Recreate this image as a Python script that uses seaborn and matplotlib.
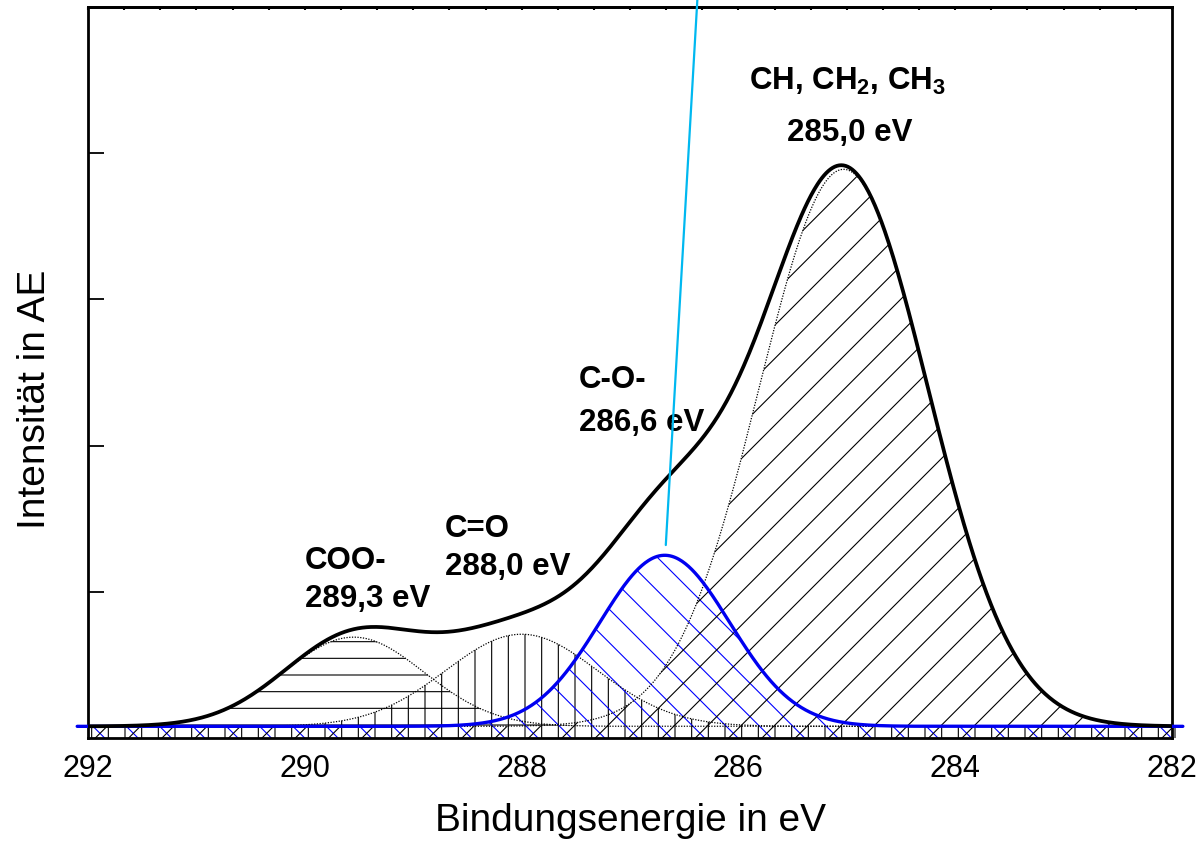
import numpy as np
import pandas as pd
import matplotlib
matplotlib.use("Agg")
import matplotlib.pyplot as plt
from matplotlib.ticker import MultipleLocator, NullFormatter
import seaborn as sns

# ---- data (C1s peak fit) ----
component_names = ["COO-", "C=O", "C-O-", "CH"]
centers_ev = [289.55, 288.00, 286.68, 285.03]
heights = [0.61, 0.63, 1.17, 3.81]
sigmas_ev = [0.65, 0.70, 0.60, 0.78]
baseline_level = 0.08
x_ticks = [292, 290, 288, 286, 284, 282]
y_ticks = [1, 2, 3, 4]

label_texts = ["CH, CH$_\\mathbf{2}$, CH$_\\mathbf{3}$", "285,0 eV",
               "C-O-", "286,6 eV", "C=O", "288,0 eV", "COO-", "289,3 eV"]
label_x = [284.99, 284.97, 287.47, 287.47, 288.71, 288.71, 290.00, 290.00]
label_y = [4.44, 4.09, 2.40, 2.11, 1.38, 1.12, 1.16, 0.90]
label_ha = ["center", "center", "left", "left", "left", "left", "left", "left"]

pointer_x = [286.375, 286.67]
pointer_y = [5.10, 1.32]

# ---- style ----
sns.set_style("white")
plt.rcParams["font.family"] = ["Liberation Sans", "DejaVu Sans"]
plt.rcParams["mathtext.fontset"] = "custom"
plt.rcParams["mathtext.rm"] = "Liberation Sans"
plt.rcParams["mathtext.bf"] = "Liberation Sans:bold"
plt.rcParams["hatch.linewidth"] = 0.8
for key in ["text.color", "axes.labelcolor", "xtick.color", "ytick.color",
            "axes.edgecolor"]:
    plt.rcParams[key] = "black"

fig = plt.figure(figsize=(11.98, 8.53), dpi=100)
ax = fig.add_axes([0.0735, 0.1336, 0.9048, 0.8570])

energy = np.linspace(292.1, 281.9, 1021)
comps = []
for c, h, s in zip(centers_ev, heights, sigmas_ev):
    comps.append(baseline_level + h * np.exp(-0.5 * ((energy - c) / s) ** 2))
envelope = baseline_level + sum(c - baseline_level for c in comps)

hatches = ["-", "|", "\\", "/"]
hcolors = ["black", "black", "blue", "black"]
for comp, hatch, col in zip(comps, hatches, hcolors):
    ax.fill_between(energy, 0, comp, facecolor="none", edgecolor=col,
                    hatch=hatch, linewidth=0, clip_on=False, zorder=1)

df = pd.DataFrame({"energy": energy})
for name, comp in zip(component_names, comps):
    df[name] = comp
df["envelope"] = envelope

for name in ["COO-", "C=O", "CH"]:
    sns.lineplot(data=df, x="energy", y=name, ax=ax, color="black",
                 linestyle=(0, (1, 1.2)), linewidth=0.9, clip_on=False, zorder=2)
sns.lineplot(data=df, x="energy", y="C-O-", ax=ax, color="#0000F0",
             linewidth=2.4, clip_on=False, zorder=3)
env = df[(df.energy <= 292) & (df.energy >= 282)]
sns.lineplot(data=env, x="energy", y="envelope", ax=ax, color="black",
             linewidth=2.7, zorder=4)

ax.plot(pointer_x, pointer_y, color="#00B8F0", linewidth=1.6, clip_on=False, zorder=5)

for t, x, y, ha in zip(label_texts, label_x, label_y, label_ha):
    ax.text(x, y, t, ha=ha, va="baseline", fontsize=22.5, fontweight="bold",
            color="black")

ax.set_xlim(292, 282)
ax.set_ylim(0, 5)
ax.set_xticks(x_ticks)
ax.set_xticklabels([str(v) for v in x_ticks])
ax.xaxis.set_minor_locator(MultipleLocator(1 / 3))
ax.set_yticks(y_ticks)
ax.yaxis.set_major_formatter(NullFormatter())
ax.tick_params(axis="x", which="major", direction="in", length=11, width=1.6,
               labelsize=22, pad=11, top=False, color="black", labelcolor="black")
ax.tick_params(axis="x", which="minor", direction="in", length=6, width=1.4, top=False)
ax.tick_params(axis="y", which="major", direction="in", length=11.5, width=1.3,
               right=False, left=True)

sec = ax.secondary_xaxis("top")
sec.set_xticks(x_ticks)
sec.xaxis.set_minor_locator(MultipleLocator(1 / 3))
sec.tick_params(axis="x", which="both", direction="in", length=2.5, width=1.5,
                labeltop=False, top=True, color="black")
sec.spines["top"].set_linewidth(2.0)
sec.spines["top"].set_color("black")

for sp in ax.spines.values():
    sp.set_linewidth(2.0)
    sp.set_color("black")
    sp.set_visible(True)

ax.set_xlabel("Bindungsenergie in eV", fontsize=28, color="black")
ax.set_ylabel("Intensität in AE", fontsize=28, color="black")
ax.xaxis.set_label_coords(0.5, -0.088)
ax.yaxis.set_label_coords(-0.032, 0.465)

fig.savefig("out.png", dpi=100)
